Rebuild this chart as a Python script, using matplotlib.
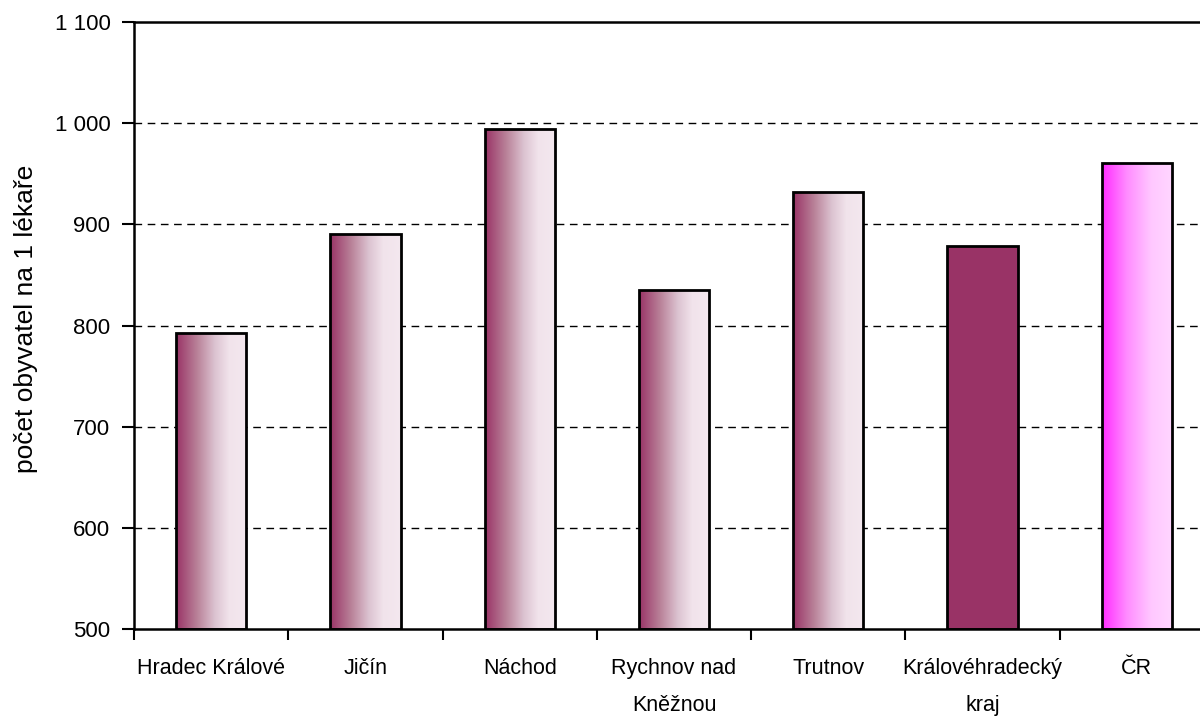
import numpy as np
import matplotlib.pyplot as plt
from matplotlib.colors import LinearSegmentedColormap

plt.rcParams['font.family'] = ['Liberation Sans', 'DejaVu Sans']

# doctors per population, by district
okresy = ['Hradec Králové', 'Jičín', 'Náchod', 'Rychnov nad\nKněžnou',
          'Trutnov', 'Královéhradecký\nkraj', 'ČR']
hodnoty = [793, 890, 994, 835, 932, 879, 961]
y_ticks = [500, 600, 700, 800, 900, 1000, 1100]
y_labels = ['500', '600', '700', '800', '900', '1 000', '1 100']

okres_cmap = LinearSegmentedColormap.from_list(
    'okres', [(0, '#993366'), (0.3, '#b98299'), (0.55, '#dcc3d1'), (0.75, '#f1e3eb'), (1, '#f4e8ef')])
cr_cmap = LinearSegmentedColormap.from_list(
    'cr', [(0, '#ff2bff'), (0.35, '#ff8cff'), (0.7, '#ffc8ff'), (1, '#ffd6ff')])

fig = plt.figure(figsize=(12, 7.17), dpi=100)
ax = fig.add_axes([134/1200, (717-629)/717, 1080/1200, 607/717])

x = np.arange(len(okresy))
w = 0.455
bars = ax.bar(x, np.array(hodnoty) - 500, width=w, bottom=500,
              facecolor='none', edgecolor='black', linewidth=2, zorder=3)

grad = np.linspace(0, 1, 256).reshape(1, -1)
for i, b in enumerate(bars):
    x0, y0 = b.get_x(), b.get_y()
    x1, y1 = x0 + b.get_width(), y0 + b.get_height()
    if i == 5:
        ax.bar(x[i], hodnoty[i] - 500, width=w, bottom=500, color='#993366', zorder=2)
        continue
    cmap = cr_cmap if i == 6 else okres_cmap
    im = ax.imshow(grad, cmap=cmap, extent=[x0, x1, y0, y1], aspect='auto', zorder=2)
    im.set_clip_path(b)

ax.set_xlim(-0.5, len(okresy) - 0.5)
ax.set_ylim(500, 1100)
ax.set_yticks(y_ticks)
ax.set_yticklabels(y_labels, fontsize=16)
ax.set_xticks(x)
ax.set_xticklabels(okresy, fontsize=15.5, linespacing=2.0, va='top')
ax.set_xticks(np.arange(len(okresy) + 1) - 0.5, minor=True)
ax.tick_params(axis='x', which='major', length=0, pad=21)
ax.tick_params(axis='x', which='minor', length=8, width=1.5, direction='out')
ax.tick_params(axis='y', length=9, width=1.5, pad=8)

for yv in y_ticks[1:-1]:
    ax.axhline(yv, color='black', linewidth=1, linestyle=(0, (5.5, 4)), zorder=1)

for s in ax.spines.values():
    s.set_linewidth(1.8)

fig.text(26/1200, 1 - 319/717, 'počet obyvatel na 1 lékaře', fontsize=19,
         rotation=90, ha='center', va='center')

fig.savefig('out.png', dpi=100)
